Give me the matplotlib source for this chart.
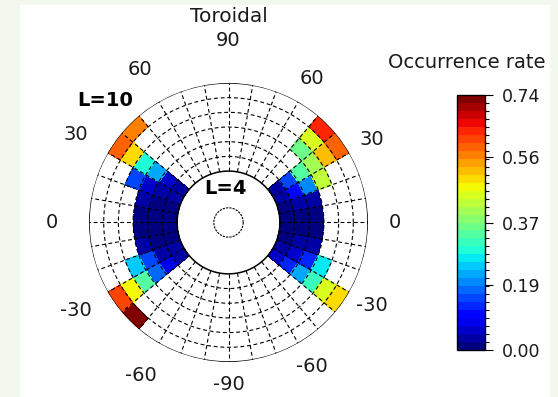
import numpy as np
import matplotlib
matplotlib.use("Agg")
from matplotlib import pyplot as plt
from matplotlib.patches import Rectangle

nan = np.nan

# bins: magnetic latitude (deg) and L shell
lat_edges = [-50, -40, -30, -20, -10, 0, 10, 20, 30, 40, 50]
L_edges = [4, 5, 6, 7, 8, 9, 10]

# occurrence rate, rows = L bins (4-5 ... 9-10), cols = latitude bins (-50 ... 50)
rate_right = [
    [nan, 0.05, 0.03, 0.02, 0.02, 0.02, 0.02, 0.03, 0.04, nan],
    [nan, 0.13, 0.05, 0.03, 0.02, 0.02, 0.03, 0.10, 0.15, nan],
    [nan, 0.22, 0.12, 0.03, 0.02, 0.02, 0.03, 0.20, 0.33, nan],
    [nan, 0.31, 0.27, nan, nan, nan, nan, 0.43, 0.40, 0.35],
    [nan, 0.46, nan, nan, nan, nan, nan, nan, 0.53, 0.44],
    [nan, 0.50, nan, nan, nan, nan, nan, nan, 0.59, 0.63],
]
rate_left = [
    [nan, 0.04, 0.03, 0.02, 0.02, 0.02, 0.02, 0.03, 0.03, nan],
    [nan, 0.08, 0.03, 0.02, 0.02, 0.02, 0.02, 0.04, 0.05, nan],
    [nan, 0.17, 0.14, 0.03, 0.02, 0.02, 0.03, 0.06, 0.22, nan],
    [nan, 0.33, 0.24, nan, nan, nan, nan, 0.14, 0.30, nan],
    [nan, 0.48, nan, nan, nan, nan, nan, nan, 0.50, nan],
    [0.74, 0.62, nan, nan, nan, nan, nan, nan, 0.58, 0.57],
]

vmax = 0.74
cbar_ticks = [0.00, 0.19, 0.37, 0.56, 0.74]
angle_labels = [90, 60, 30, 0, -30, -60, -90]

fig = plt.figure(figsize=(5.58, 3.97), dpi=100)
fig.patch.set_facecolor("#f2f8ee")
fig.patches.append(Rectangle((20/558, 0), 530/558, 392/397, transform=fig.transFigure,
                             facecolor="white", edgecolor="none", zorder=-5))

ax = fig.add_axes([0.1595, 0.0882, 0.5, 0.7028], projection="polar")
ax.set_facecolor("none")
ax.set_ylim(0.5, 10)
ax.set_xticks([])
ax.set_yticks([])
ax.grid(False)
ax.spines["polar"].set_visible(False)

cmap = plt.get_cmap("jet", 32)
lat = np.array(lat_edges, dtype=float)
Le = np.array(L_edges, dtype=float)

m = ax.pcolormesh(np.deg2rad(lat), Le, np.ma.masked_invalid(rate_right),
                  cmap=cmap, vmin=0, vmax=vmax, zorder=2)
ax.pcolormesh(np.deg2rad(180 - lat), Le, np.ma.masked_invalid(rate_left),
              cmap=cmap, vmin=0, vmax=vmax, zorder=2)

# grid of dashed cell outlines
th = np.linspace(0, 2*np.pi, 721)
dash = (0, (3.5, 2.5))
for L in Le:
    if L in (4, 10):
        ax.plot(th, np.full_like(th, L), color="black", lw=1.1, zorder=3)
    else:
        ax.plot(th, np.full_like(th, L), color="black", lw=0.8, ls=dash, zorder=3)
for a in np.arange(0, 360, 10):
    ax.plot([np.deg2rad(a)]*2, [4, 10], color="black", lw=0.8, ls=dash, zorder=3)

# Earth
ax.plot(th, np.full_like(th, 1.5), color="black", lw=0.8, ls=(0, (2, 1)), zorder=3)

# latitude labels on both sides
for v in angle_labels:
    if abs(v) == 90:
        r = 12.9 if v > 0 else 11.5
        ax.text(np.deg2rad(v), r, str(v), ha="center", va="center", fontsize=14, color="#1a1a1a")
        continue
    ax.text(np.deg2rad(v), 11.8, str(v), ha="center", va="center", fontsize=14, color="#1a1a1a")
    ax.text(np.deg2rad(180 - v), 12.5, str(v), ha="center", va="center", fontsize=14, color="#1a1a1a")

fig.text(229/558, 1 - 17/397, "Toroidal", ha="center", va="center", fontsize=14.5, color="#1a1a1a")
fig.text(105/558, 1 - 101/397, "L=10", ha="center", va="center", fontsize=14, fontweight="bold")
fig.text(225/558, 1 - 189/397, "L=4", ha="center", va="center", fontsize=14, fontweight="bold")

# colour bar
cax = fig.add_axes([456.7/558, 1 - 350/397, 28/558, 255/397])
cb = fig.colorbar(m, cax=cax, ticks=cbar_ticks)
cb.ax.set_yticklabels(["%.2f" % t for t in cbar_ticks], fontsize=12.5, color="#1a1a1a")
cb.ax.set_yticks(np.linspace(0, vmax, 33), minor=True)
cb.ax.tick_params(which="major", length=5.5, width=0.8, pad=7)
cb.ax.tick_params(which="minor", length=3, width=0.8)
cb.outline.set_linewidth(1.0)
fig.text(467/558, 1 - 62/397, "Occurrence rate", ha="center", va="center", fontsize=14, color="#1a1a1a")

fig.savefig("out.png", dpi=100)
